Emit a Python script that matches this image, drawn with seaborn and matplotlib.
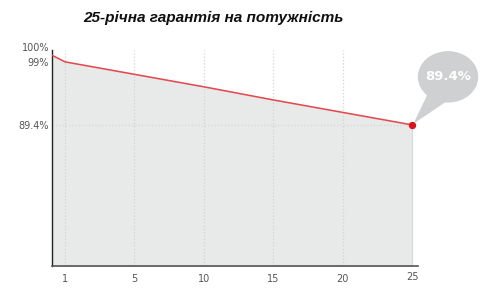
import matplotlib
matplotlib.use("Agg")
import matplotlib.pyplot as plt
import seaborn as sns
import pandas as pd
import numpy as np
from matplotlib.patches import Ellipse, Polygon
import matplotlib.transforms as mtransforms

# Data
years = [0, 1, 5, 10, 15, 20, 25]
power = [100, 99, 97.1, 95.2, 93.2, 91.3, 89.4]
x_ticks = [1, 5, 10, 15, 20, 25]
y_ticks = [89.4, 99, 100]
y_tick_labels = ["89.4%", "99%", "100%"]
title = "25-річна гарантія на потужність"
final_label = "89.4%"

sns.set_style("white")
plt.rcParams['font.family'] = ['DejaVu Sans']

df = pd.DataFrame({"year": years, "power": power})

# category-like year axis: ticks evenly spaced, short lead-in from year 0
_knots_year = np.array([0.0, 1.0, 5.0, 25.0])
_knots_pos = np.array([0.0, 0.187, 1.187, 5.187])
def fwd(x):
    x = np.asarray(x, dtype=float)
    return np.where(x <= 25, np.interp(x, _knots_year, _knots_pos), 5.187 + (x - 25) / 5)
def inv(p):
    p = np.asarray(p, dtype=float)
    return np.where(p <= 5.187, np.interp(p, _knots_pos, _knots_year), 25 + (p - 5.187) * 5)

fig = plt.figure(figsize=(4.99, 3.02), dpi=100)
ax = fig.add_axes([52/499, 36/302, 366/499, 216/302])
ax.set_xscale("function", functions=(fwd, inv))

ymin, ymax = 67.9, 100.8
ax.fill_between(df["year"], df["power"], ymin, color="#e8e9e9", linewidth=0.8,
                edgecolor="#d8d8d8", zorder=1)
for xt in x_ticks[:-1]:
    ax.axvline(xt, color="#d2d2d2", linestyle=":", linewidth=0.9, zorder=2)
ax.plot([0, years[-1]], [power[-1], power[-1]], color="#d6d6d6",
        linestyle=":", linewidth=0.9, zorder=2)
sns.lineplot(data=df, x="year", y="power", ax=ax, color="#e5484d", linewidth=1.1, zorder=3)
ax.scatter([years[-1]], [power[-1]], s=28, color="#d9141b", zorder=5, linewidth=0)

ax.set_xlim(0, 25.43)
ax.set_ylim(ymin, ymax)
ax.set_xticks(x_ticks)
ax.set_xticklabels([str(v) for v in x_ticks])
ax.minorticks_off()
ax.set_yticks(y_ticks)
ax.set_yticklabels(y_tick_labels)
ax.set_xlabel("")
ax.set_ylabel("")
ax.tick_params(axis="both", length=0, labelsize=7, labelcolor="#555555")
ax.tick_params(axis="x", pad=6)
ax.tick_params(axis="y", pad=2)
for lbl in ax.get_yticklabels():
    if lbl.get_text() == "100%":
        lbl.set_transform(lbl.get_transform() + mtransforms.ScaledTranslation(0, 6/72, fig.dpi_scale_trans))
for lbl in ax.get_xticklabels():
    if lbl.get_text() == "25":
        lbl.set_transform(lbl.get_transform() + mtransforms.ScaledTranslation(0, 2/72, fig.dpi_scale_trans))

for s in ["top", "right"]:
    ax.spines[s].set_visible(False)
ax.spines["left"].set_color("#222222")
ax.spines["left"].set_linewidth(1.0)
ax.spines["bottom"].set_color("#555555")
ax.spines["bottom"].set_linewidth(1.2)

# bubble callout anchored at final point (pixel offsets)
px, py = ax.transData.transform((years[-1], power[-1]))
inv_f = fig.transFigure.inverted()
def fpos(dx, dy):
    return inv_f.transform((px + dx, py + dy))
cx, cy = 36, 48
ell = Ellipse(fpos(cx, cy), 59/499, 50/302, transform=fig.transFigure,
              color="#cfd0d1", zorder=6)
fig.add_artist(ell)
tail = Polygon([fpos(3, 3), fpos(18, 34), fpos(34, 24)], closed=True,
               transform=fig.transFigure, color="#cfd0d1", zorder=6)
fig.add_artist(tail)
cxf, cyf = fpos(cx, cy)
fig.text(cxf, cyf, final_label, ha="center", va="center", color="white",
         fontsize=9.5, fontweight="bold", zorder=7)

fig.text(213/499, 1 - 18/302, title, ha="center", va="center",
         fontsize=11.1, fontweight="bold", fontstyle="italic", color="#111111",
         family=["Liberation Sans", "DejaVu Sans"])

fig.savefig("out.png", dpi=100)
